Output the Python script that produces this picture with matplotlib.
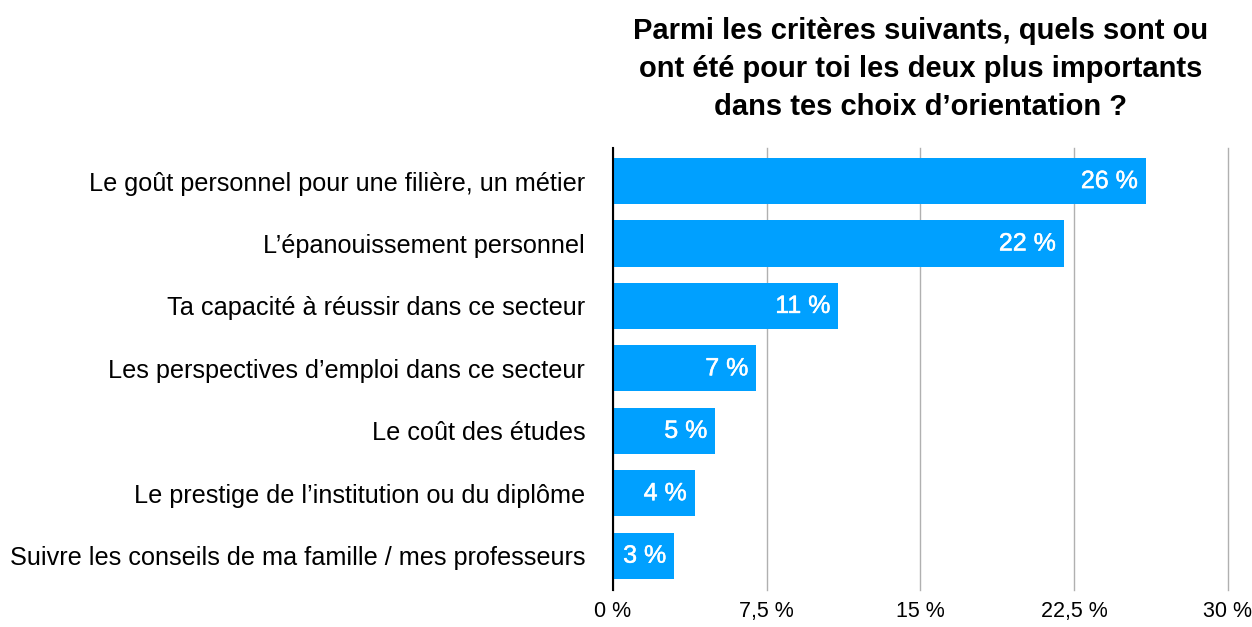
import matplotlib.pyplot as plt
import matplotlib.patheffects as pe

plt.rcParams["font.family"] = ["Liberation Sans", "DejaVu Sans"]

categories = [
    "Le goût personnel pour une filière, un métier",
    "L’épanouissement personnel",
    "Ta capacité à réussir dans ce secteur",
    "Les perspectives d’emploi dans ce secteur",
    "Le coût des études",
    "Le prestige de l’institution ou du diplôme",
    "Suivre les conseils de ma famille / mes professeurs",
]
values = [26, 22, 11, 7, 5, 4, 3]
ticks = [0, 7.5, 15, 22.5, 30]
tick_labels = ["0 %", "7,5 %", "15 %", "22,5 %", "30 %"]
title = ("Parmi les critères suivants, quels sont ou\n"
         "ont été pour toi les deux plus importants\n"
         "dans tes choix d’orientation ?")

fig = plt.figure(figsize=(12.52, 6.27), dpi=100)
ax = fig.add_axes([0.4896, 0.059, 0.4912, 0.705])

pos = list(range(len(categories)))
ax.barh(pos, values, height=0.74, color="#00A0FF", zorder=2)
for p, v in zip(pos, values):
    ax.text(v - 0.4, p, f"{v} %", ha="right", va="center", color="white",
            fontsize=18, zorder=3,
            path_effects=[pe.withStroke(linewidth=0.35, foreground="white")])

ax.set_xlim(0, 30)
ax.set_ylim(6.55, -0.53)
ax.set_yticks(pos)
ax.set_yticklabels(categories, fontsize=18.2)
ax.set_xticks(ticks)
ax.set_xticklabels(tick_labels, fontsize=15.5)
ax.tick_params(length=0, axis="y", pad=20)
ax.tick_params(length=0, axis="x", pad=8)
ax.grid(axis="x", color="#b0b0b0", linewidth=1, zorder=0)
for gl in ax.get_xgridlines():
    gl.set_clip_on(False)
for s in ["top", "right", "bottom"]:
    ax.spines[s].set_visible(False)
ax.spines["left"].set_linewidth(1.5)
ax.spines["left"].set_zorder(4)

ax.set_title(title, fontsize=21, fontweight="bold", linespacing=1.45, pad=24)

fig.savefig("out.png", dpi=100)
